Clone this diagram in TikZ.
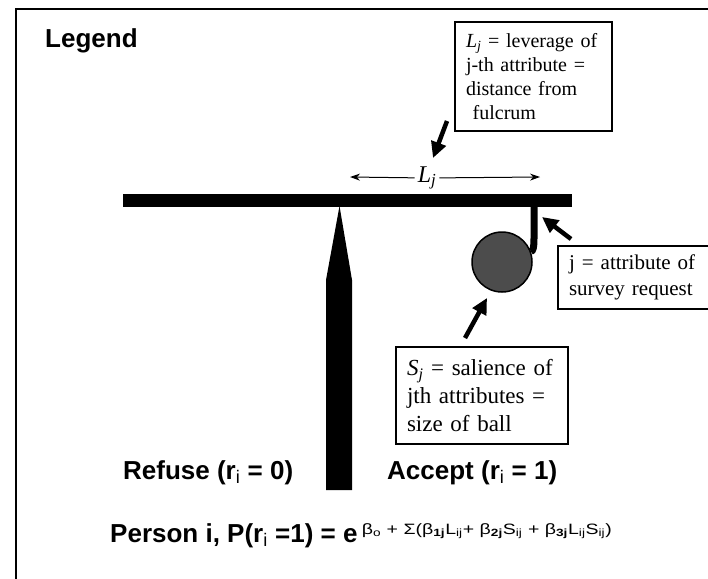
\documentclass[tikz,border=0pt]{standalone}
\usepackage{fontspec}
\setmainfont{Liberation Serif}
\setsansfont{Liberation Sans}
\usetikzlibrary{arrows.meta, positioning}

\begin{document}
\begin{tikzpicture}[
    x=1pt, y=-1pt,
    every node/.style={inner sep=0pt},
    notebox/.style={
      rectangle, draw=black, line width=1.2pt, fill=white,
      align=left, inner xsep=11pt, inner ysep=4pt
    },
    heading/.style={font=\sffamily\bfseries\fontsize{26}{30}\selectfont},
    bigarrow/.style={-{Triangle[length=16pt,width=15pt]}, line width=4.5pt},
    dimarrow/.style={-{Stealth[length=10pt,width=7pt]}, line width=1pt},
    ball/.style={circle, minimum size=60pt, draw=black, line width=1.5pt, fill=black!70}
  ]
  \useasboundingbox (0,0) rectangle (708,578);
  \fill[white] (0,0) rectangle (708,578);
  \clip (0,0) rectangle (708,578);

  % frame
  \draw[line width=1.5pt] (16,9) rectangle (740,610);

  \node[heading, anchor=base west] (legend) at (45,48) {Legend};

  % lever
  \node[rectangle, fill=black, minimum width=449pt, minimum height=13pt] (beam) at (347.5,200.5) {};
  \fill (339.5,206) -- (352,280) -- (352,490) -- (326,490) -- (326,280) -- cycle;
  \node[ball] (ball) at (502,262) {};
  \draw[line width=7pt] (534,206) -- (534,238) .. controls (534,248) and (533,251) .. (ball.20);

  % distance from fulcrum
  \node[font=\itshape\fontsize{24}{24}\selectfont, fill=white, inner xsep=3pt, inner ysep=2pt] (lj) at (427,178) {L\textsubscript{j}};
  \coordinate (dimleft) at (350,177);
  \coordinate (dimright) at (540,177);
  \draw[dimarrow] (lj) -- (dimleft);
  \draw[dimarrow] (lj) -- (dimright);

  % notes
  \node[notebox, text width=135pt, minimum height=109pt, font=\fontsize{20}{24}\selectfont] (levbox) at (533.5,76.5)
    {\textit{L\textsubscript{j}} = leverage of\\ j-th attribute =\\ distance from\\ \ fulcrum};
  \node[notebox, text width=131pt, minimum height=63pt, font=\fontsize{21}{26}\selectfont] (attrbox) at (634.5,277.5)
    {j = attribute of\\ survey request};
  \node[notebox, text width=150pt, minimum height=97pt, font=\fontsize{23}{28}\selectfont] (salbox) at (482,395.5)
    {\textit{S\textsubscript{j}} = salience of\\ jth attributes =\\ size of ball};

  \coordinate (levtail) at (447,121);
  \coordinate (levhead) at (433,158);
  \coordinate (attrtail) at (571,239);
  \coordinate (attrhead) at (542,217);
  \coordinate (saltail) at (465,338);
  \coordinate (salhead) at (487,298);
  \draw[bigarrow] (levtail) -- (levhead);
  \draw[bigarrow] (attrtail) -- (attrhead);
  \draw[bigarrow] (saltail) -- (salhead);

  % outcomes
  \node[heading, anchor=base west] (refuse) at (123,479) {Refuse (r\textsubscript{\mdseries i} = 0)};
  \node[heading, anchor=base west] (accept) at (387,479) {Accept (r\textsubscript{\mdseries i} = 1)};
  \node[heading, anchor=base west] (formula) at (110,542)
    {Person i, P(r\textsubscript{\mdseries i} =1) = e\,\raisebox{8pt}{\scalebox{1.3}[1]{\mdseries\fontsize{15}{15}\selectfont β\textsubscript{o} + Σ(β\textsubscript{\bfseries 1j}L\textsubscript{ij}+ β\textsubscript{\bfseries 2j}S\textsubscript{ij} + β\textsubscript{\bfseries 3j}L\textsubscript{ij}S\textsubscript{ij})}}};
\end{tikzpicture}
\end{document}
